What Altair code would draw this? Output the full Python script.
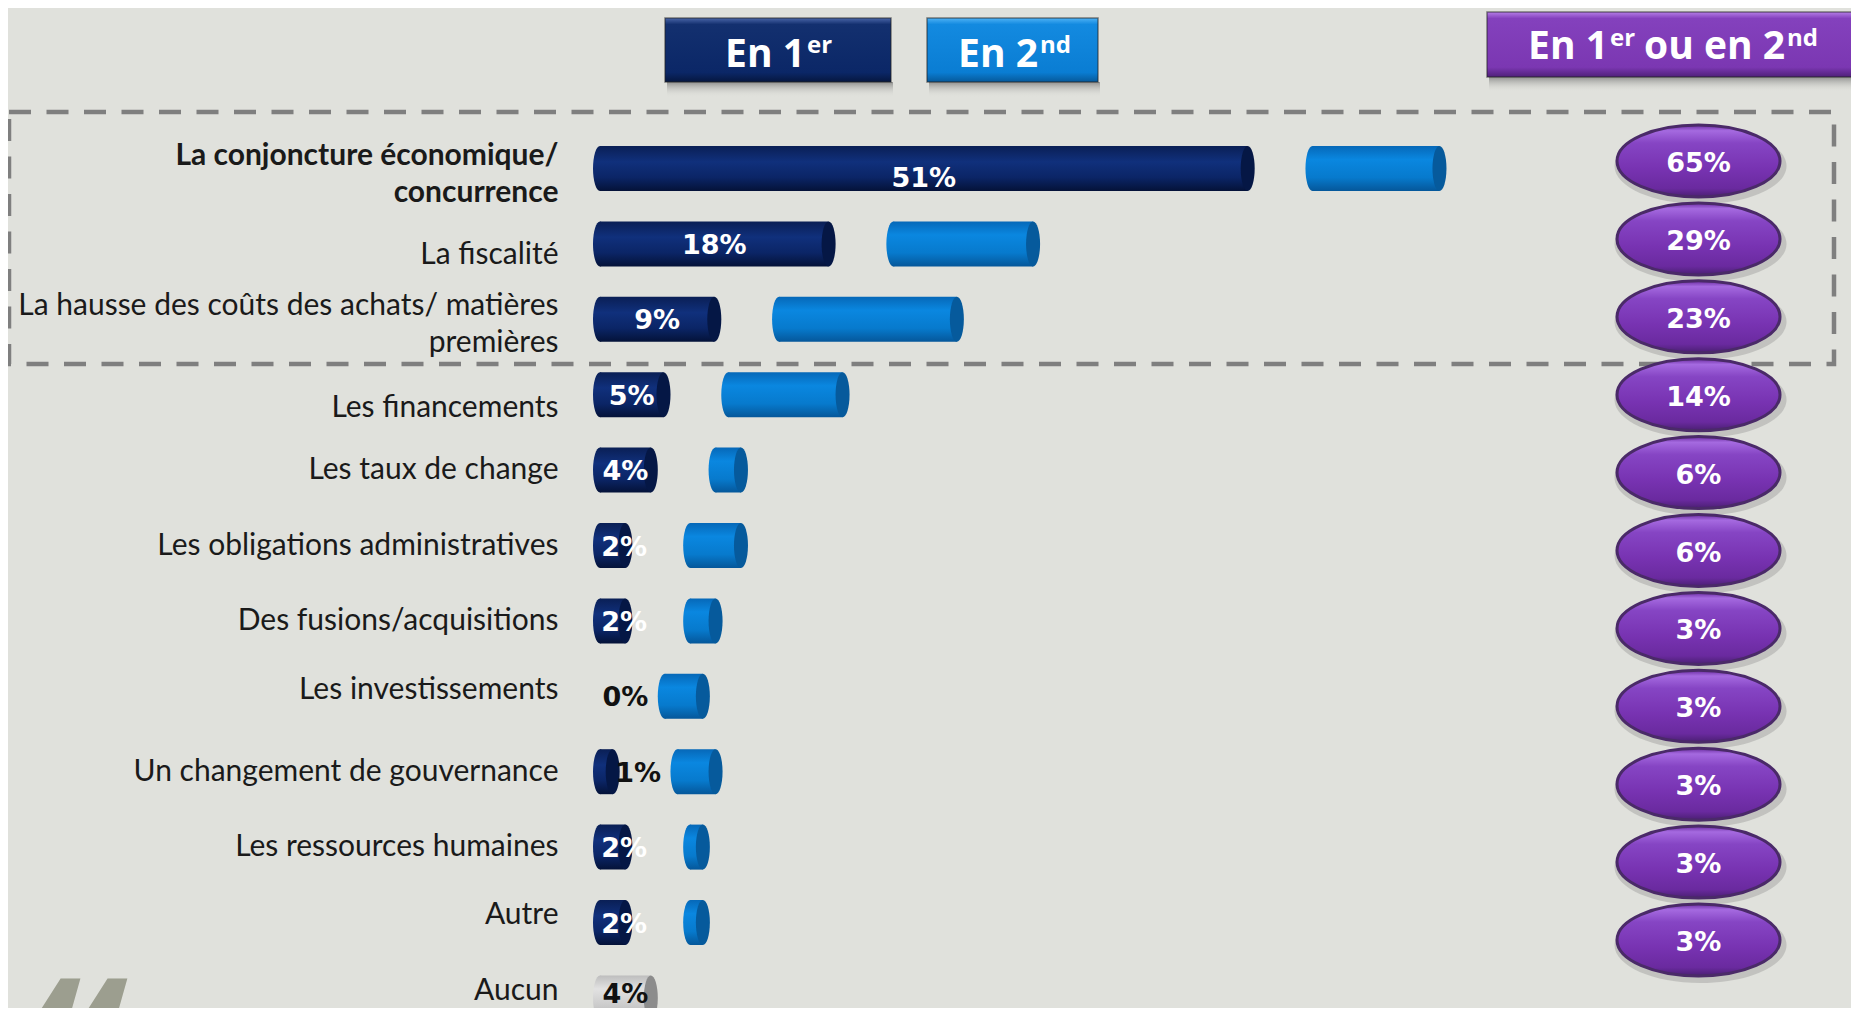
import altair as alt
import pandas as pd

# ---------------- data ----------------
categories = [
    "La conjoncture économique/\nconcurrence",
    "La fiscalité",
    "La hausse des coûts des achats/ matières\npremières",
    "Les financements",
    "Les taux de change",
    "Les obligations administratives",
    "Des fusions/acquisitions",
    "Les investissements",
    "Un changement de gouvernance",
    "Les ressources humaines",
    "Autre",
    "Aucun",
]
first = [51, 18, 9, 5, 4, 2, 2, 0, 1, 2, 2, 4]          # En 1er (labelled)
second = [10, 11, 14, 9, 2, 4, 2, 3, 3, 1, 1, None]      # En 2nd
total = [65, 29, 23, 14, 6, 6, 3, 3, 3, 3, 3, None]      # En 1er ou en 2nd

df = pd.DataFrame({"cat": categories, "first": first, "second": second, "total": total})
one = pd.DataFrame({"k": [0]})

# ---------------- layout / style ----------------
PAD_L = 592
W = 1251
H = 1000
PX_PER_PCT = 12.7
XMAX = W / PX_PER_PCT
GAP = 5.1

BG = "#e0e1dc"

def vgrad(stops):
    return {"gradient": "linear", "x1": 0, "y1": 0, "x2": 0, "y2": 1,
            "stops": [{"offset": o, "color": c} for o, c in stops]}

NAVY = vgrad([(0, "#0a1f55"), (0.35, "#10307c"), (0.7, "#0b2566"), (1, "#041238")])
NAVY_CAP = "#051745"
BLUE = vgrad([(0, "#0668b8"), (0.3, "#0a87e0"), (0.7, "#077acd"), (1, "#05579a")])
BLUE_CAP = "#065a9c"
GRAY = vgrad([(0, "#bdbdbd"), (0.3, "#e2e2e2"), (0.7, "#c9c9c9"), (1, "#9a9a9a")])
GRAY_CAP = "#8c8c8c"
PURPLE = vgrad([(0, "#6a2ba0"), (0.08, "#a56ae0"), (0.25, "#8645c4"), (0.6, "#7833b2"), (0.88, "#6a2a9f"), (1, "#4a1f72")])

CAP = "M0,-1A0.311,1,0,1,1,0,1A0.311,1,0,1,1,0,-1Z"
OVAL = "M-1,0A1,0.442,0,1,1,1,0A1,0.442,0,1,1,-1,0Z"

xs = alt.Scale(domain=[0, XMAX], nice=False, zero=True)
ybs = alt.Scale(range=[122.8, 1027.6], paddingInner=0.403, paddingOuter=0.2015)
yaxis = alt.Axis(
    title=None, ticks=False, domain=False, grid=False,
    labelPadding=42, labelFont="Lato", labelFontSize=30, labelColor="#1a1a1a",
    labelLineHeight=37, labelLimit=700, labelOverlap=False,
    labelExpr="split(datum.label, '\\n')",
    labelFontWeight={"condition": {"test": "indexof(datum.value, 'conjoncture') >= 0", "value": "bold"},
                     "value": "normal"},
    labelOffset={"condition": [
        {"test": "indexof(datum.value, '\\n') >= 0", "value": -13},
        {"test": "datum.value == 'La fiscalité'", "value": 11},
        {"test": "datum.value == 'Les financements'", "value": 13},
        {"test": "datum.value == 'Les investissements'", "value": -6},
        {"test": "datum.value == 'Autre'", "value": -8},
        {"test": "datum.value == 'Aucun'", "value": -7},
    ], "value": 0},
)
yb = alt.Y("cat:N", sort=categories, scale=ybs, axis=yaxis)

base = alt.Chart(df).transform_calculate(
    z="0",
    s2="datum.first + %f" % GAP,
    e2="datum.first + %f + datum.second" % GAP,
    lx="datum.first < 2 ? datum.first + 2 : max(datum.first / 2, 1.9)",
    lab="datum.first + '%'",
)
main = base.transform_filter("datum.cat != 'Aucun'")
aucun = base.transform_filter("datum.cat == 'Aucun'")
pos = main.transform_filter("datum.first > 0")

def X(f):
    return alt.X(f, scale=xs, axis=None)

layers = []

# navy bars (En 1er)
layers.append(main.mark_bar(fill=NAVY).encode(x=X("z:Q"), x2="first:Q", y=yb))
layers.append(pos.mark_point(shape=CAP, size=2025, filled=True, opacity=1, fill=NAVY, strokeWidth=0)
              .encode(x=X("z:Q"), y=yb))
layers.append(pos.mark_point(shape=CAP, size=2025, filled=True, opacity=1, fill=NAVY_CAP, strokeWidth=0)
              .encode(x=X("first:Q"), y=yb))
# blue bars (En 2nd)
layers.append(main.mark_bar(fill=BLUE).encode(x=X("s2:Q"), x2="e2:Q", y=yb))
layers.append(main.mark_point(shape=CAP, size=2025, filled=True, opacity=1, fill=BLUE, strokeWidth=0)
              .encode(x=X("s2:Q"), y=yb))
layers.append(main.mark_point(shape=CAP, size=2025, filled=True, opacity=1, fill=BLUE_CAP, strokeWidth=0)
              .encode(x=X("e2:Q"), y=yb))
# gray bar (Aucun)
layers.append(aucun.mark_bar(fill=GRAY).encode(x=X("z:Q"), x2="first:Q", y=yb))
layers.append(aucun.mark_point(shape=CAP, size=2025, filled=True, opacity=1, fill=GRAY, strokeWidth=0)
              .encode(x=X("z:Q"), y=yb))
layers.append(aucun.mark_point(shape=CAP, size=2025, filled=True, opacity=1, fill=GRAY_CAP, strokeWidth=0)
              .encode(x=X("first:Q"), y=yb))
# value labels
label_color = alt.condition("datum.first < 2 || datum.cat == 'Aucun'",
                            alt.value("#111111"), alt.value("#ffffff"))
layers.append(main.transform_filter("datum.first <= 40")
              .mark_text(font="DejaVu Sans", fontWeight="bold", fontSize=27, baseline="middle", dy=2)
              .encode(x=X("lx:Q"), y=yb, text="lab:N", color=label_color))
layers.append(main.transform_filter("datum.first > 40")
              .mark_text(font="DejaVu Sans", fontWeight="bold", fontSize=27, baseline="middle", dy=10)
              .encode(x=X("lx:Q"), y=yb, text="lab:N", color=label_color))
layers.append(aucun
              .mark_text(font="DejaVu Sans", fontWeight="bold", fontSize=27, baseline="middle", dy=-3)
              .encode(x=X("lx:Q"), y=yb, text="lab:N", color=label_color))

# dashed frame around the first three rows
layers.append(alt.Chart(one).mark_rect(fillOpacity=0, stroke="#7f7f7f", strokeWidth=4.5,
                                       strokeDash=[22, 15.5])
              .encode(x=alt.value(-591), x2=alt.value(1234), y=alt.value(104), y2=alt.value(356)))

# header boxes (legend)
SHADOW = vgrad([(0, "rgba(90,90,90,0.6)"), (1, "rgba(224,225,220,0)")])
def box(x0, x1, y0, y1, grad):
    return [
        alt.Chart(one).mark_rect(fill=SHADOW).encode(
            x=alt.value(x0 + 2), x2=alt.value(x1 + 2), y=alt.value(y1), y2=alt.value(y1 + 15)),
        alt.Chart(one).mark_rect(fill=grad, stroke="#222222", strokeWidth=1.5, strokeOpacity=0.55).encode(
            x=alt.value(x0), x2=alt.value(x1), y=alt.value(y0), y2=alt.value(y1)),
    ]

def txt(s, x, y, size, align):
    return alt.Chart(one).mark_text(text=s, font="Open Sans", fontWeight="bold", fontSize=size,
                                    color="white", align=align, baseline="alphabetic").encode(
        x=alt.value(x), y=alt.value(y))

NAVYBOX = vgrad([(0, "#4a66a8"), (0.1, "#13306f"), (0.85, "#0b2767"), (1, "#06173f")])
BLUEBOX = vgrad([(0, "#4fb2f5"), (0.1, "#138ae0"), (0.85, "#0a7dd3"), (1, "#06599a")])
PURPBOX = vgrad([(0, "#b57ee6"), (0.1, "#8441bd"), (0.85, "#7b37b2"), (1, "#4f2079")])

layers += box(65, 291, 10, 74, NAVYBOX)
layers += [txt("En 1", 205, 59, 39, "right"), txt("er", 207, 45, 24, "left")]
layers += box(327, 498, 10, 74, BLUEBOX)
layers += [txt("En 2", 438, 59, 39, "right"), txt("nd", 440, 45, 24, "left")]
layers += box(887, 1270, 4, 69, PURPBOX)
layers += [txt("En 1", 1008, 51, 39, "right"), txt("er", 1010, 38, 24, "left"),
           txt("ou en 2", 1185, 51, 39, "right"), txt("nd", 1187, 38, 24, "left")]

# decorative quote mark bottom-left
layers.append(alt.Chart(one).mark_text(text="\u201c", font="DejaVu Sans", fontWeight="bold", fontSize=190,
                                       color="#9c9e8f", align="left", baseline="alphabetic")
              .encode(x=alt.value(-580), y=alt.value(1110)))

inner = alt.layer(*layers)

# purple ovals (En 1er ou en 2nd)
ye = alt.Y("cat:N", sort=categories[:11],
           scale=alt.Scale(type="point", range=[114.05, 970.95], padding=0.5), axis=None)
ov = alt.Chart(df).transform_filter("isValid(datum.total)").transform_calculate(t="datum.total + '%'")
ovals = alt.layer(
    ov.mark_point(shape=OVAL, size=172 * 172, filled=True, opacity=0.35, fill="#8a8a8a", strokeWidth=0)
      .encode(x=alt.value(1100.5), y=ye, yOffset=alt.value(5)),
    ov.mark_point(shape=OVAL, size=163 * 163, filled=True, opacity=1, fill=PURPLE,
                  stroke="#4a2a68", strokeWidth=3)
      .encode(x=alt.value(1098.5), y=ye),
    ov.mark_text(font="DejaVu Sans", fontWeight="bold", fontSize=27, color="white", baseline="middle", dy=3)
      .encode(x=alt.value(1098.5), y=ye, text="t:N"),
)

chart = alt.layer(inner, ovals).resolve_scale(y="independent").properties(
    width=W, height=H,
    padding={"left": PAD_L, "top": 0, "right": 0, "bottom": 0},
    autosize=alt.AutoSizeParams(type="none"),
    background=BG,
).configure_view(stroke=None)

chart.save("out.html", embed_options={"renderer": "svg", "actions": False})
